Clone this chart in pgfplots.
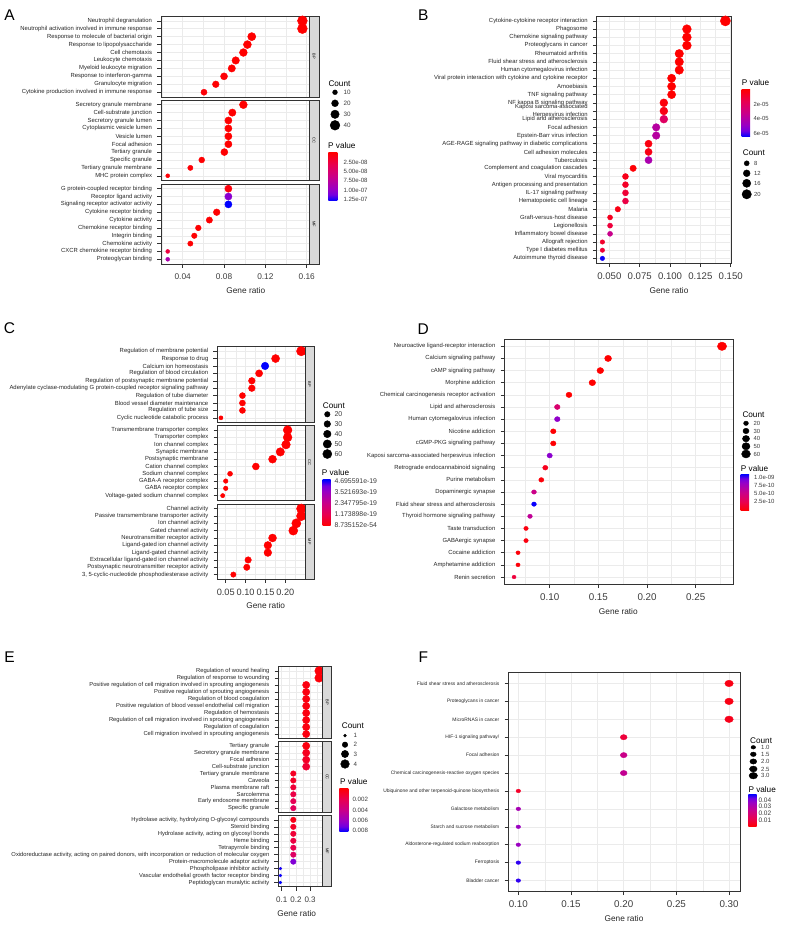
\documentclass[border=0pt]{standalone}
\usepackage{pgfplots}
\pgfplotsset{compat=1.18}
\usepackage{pgfplotstable}
\usepackage{fontspec}
\setmainfont{Liberation Sans}
\newcommand{\fs}[1]{\fontsize{#1}{#1}\selectfont}
\definecolor{g30}{RGB}{60,60,60}
\definecolor{g20}{RGB}{51,51,51}
\definecolor{g92}{RGB}{235,235,235}
\definecolor{g85}{RGB}{217,217,217}
\pgfdeclareverticalshading{pvup}{100bp}{rgb(0bp)=(1,0,0); rgb(25bp)=(1,0,0); rgb(37.5bp)=(0.91,0,0.314); rgb(50bp)=(0.788,0,0.537); rgb(62.5bp)=(0.604,0,0.765); rgb(68.75bp)=(0.451,0,0.878); rgb(75bp)=(0,0,1); rgb(100bp)=(0,0,1)}
\pgfdeclareverticalshading{pvdown}{100bp}{rgb(0bp)=(0,0,1); rgb(25bp)=(0,0,1); rgb(31.25bp)=(0.451,0,0.878); rgb(37.5bp)=(0.604,0,0.765); rgb(50bp)=(0.788,0,0.537); rgb(62.5bp)=(0.91,0,0.314); rgb(75bp)=(1,0,0); rgb(100bp)=(1,0,0)}

\pgfplotsset{
  colormap={pv}{rgb255(0cm)=(255,0,0) rgb255(2cm)=(232,0,80) rgb255(4cm)=(201,0,137) rgb255(6cm)=(154,0,195) rgb255(7cm)=(115,0,224) rgb255(8cm)=(0,0,255)},
  dp/.style={scale only axis, anchor=north west, y dir=reverse,
    colormap name=pv,
    axis line style={draw=g20, line width=0.8pt},
    tick style={draw=g20, line width=0.5pt},
    tick align=outside, major tick length=3.8pt, minor tick length=0pt,
    xmajorgrids, xminorgrids, ymajorgrids,
    major grid style={draw=g92, line width=0.5pt},
    minor grid style={draw=g92, line width=0.25pt},
    ytick pos=left, xtick pos=left,
    yticklabel style={text=black!85, inner sep=0pt, xshift=-5pt},
    xticklabel style={text=g30, yshift=-2.5pt},
  },
  nox/.style={xticklabels={}, xtick style={draw=none}},
  dots/.style 2 args={scatter, only marks, mark=*, point meta=\thisrow{p},
    scatter/use mapped color={draw=mapped color, fill=mapped color},
    visualization depends on={sqrt(max(#1*\thisrow{c}+(#2),0.3)) \as \rad},
    scatter/@pre marker code/.append style={/tikz/mark size=\rad}},
  legdots/.style 2 args={scatter, only marks, mark=*, point meta=\thisrow{c},
    scatter/use mapped color={draw=black, fill=black},
    visualization depends on={sqrt(max(#1*\thisrow{c}+(#2),0.3)) \as \rad},
    scatter/@pre marker code/.append style={/tikz/mark size=\rad}},
}

% ---------------- Panel A ----------------
\pgfplotstableread[row sep=\\]{
r c p\\
0.1558 41 1e-12\\
0.1558 41 1e-12\\
0.1068 28 1e-10\\
0.1026 27 1e-10\\
0.0987 26 1e-10\\
0.0913 24 1e-10\\
0.0875 23 1e-10\\
0.0800 21 2e-9\\
0.0720 19 1e-9\\
0.0606 16 3e-9\\
}\tAbp
\pgfplotstableread[row sep=\\]{
r c p\\
0.0987 26 1e-10\\
0.0880 23 1e-10\\
0.0842 22 1e-10\\
0.0842 22 1e-10\\
0.0842 22 1e-10\\
0.0842 22 1e-10\\
0.0803 21 1e-9\\
0.0584 15 1e-9\\
0.0474 12 2e-9\\
0.0255 7 3e-9\\
}\tAcc
\pgfplotstableread[row sep=\\]{
r c p\\
0.0842 22 5e-9\\
0.0842 22 1.04e-7\\
0.0842 22 1.3e-7\\
0.0729 19 1e-9\\
0.0658 17 1e-9\\
0.0551 14 1e-9\\
0.0512 13 1e-9\\
0.0474 12 1e-9\\
0.0255 7 2.5e-8\\
0.0255 7 8.5e-8\\
}\tAmf
% ---------------- Panel B ----------------
\pgfplotstableread[row sep=\\]{
r c p\\
0.1456 23 1e-10\\
0.1139 18 1e-9\\
0.1139 18 1e-9\\
0.1139 18 1e-9\\
0.1076 17 1e-8\\
0.1076 17 1e-8\\
0.1076 17 1e-8\\
0.1013 16 1e-8\\
0.1013 16 1e-8\\
0.1013 16 1e-8\\
0.0949 15 2e-6\\
0.0949 15 4e-6\\
0.0949 15 2.1e-5\\
0.0886 14 3.9e-5\\
0.0886 14 3.9e-5\\
0.0823 13 3e-6\\
0.0823 13 4e-6\\
0.0823 13 4.3e-5\\
0.0696 11 1e-6\\
0.0633 10 5e-6\\
0.0633 10 8e-6\\
0.0633 10 1.1e-5\\
0.0633 10 1.4e-5\\
0.0570 9 4e-6\\
0.0506 8 6e-6\\
0.0506 8 1.2e-5\\
0.0506 8 3.3e-5\\
0.0443 7 9e-6\\
0.0443 7 1.1e-5\\
0.0443 7 6.4e-5\\
}\tB
% ---------------- Panel C ----------------
\pgfplotstableread[row sep=\\]{
r c p\\
0.240 65 1e-30\\
0.1755 47 1e-25\\
0.149 40 4.7e-19\\
0.134 36 1e-25\\
0.1157 31 1e-25\\
0.1157 31 1e-25\\
0.092 25 1e-22\\
0.092 25 1e-22\\
0.092 25 1e-22\\
0.038 10 1e-22\\
}\tCbp
\pgfplotstableread[row sep=\\]{
r c p\\
0.2058 56 1e-40\\
0.2058 56 1e-40\\
0.2017 54 1e-40\\
0.1873 51 1e-35\\
0.1678 45 1e-35\\
0.1258 34 1e-30\\
0.0609 16 1e-25\\
0.0500 13 1e-25\\
0.0500 13 1e-25\\
0.0424 11 1e-25\\
}\tCcc
\pgfplotstableread[row sep=\\]{
r c p\\
0.240 65 1e-50\\
0.240 65 1e-50\\
0.2277 61 1e-50\\
0.220 59 1e-50\\
0.1678 45 1e-35\\
0.156 42 1e-35\\
0.156 42 1e-35\\
0.1064 29 1e-30\\
0.103 28 1e-25\\
0.0692 19 1e-22\\
}\tCmf
% ---------------- Panel D ----------------
\pgfplotstableread[row sep=\\]{
r c p\\
0.277 66 1e-15\\
0.160 38 1e-12\\
0.152 36 1e-12\\
0.1438 35 1e-12\\
0.1198 29 1e-12\\
0.1078 26 4.1e-10\\
0.1078 26 8.5e-10\\
0.1037 25 1e-11\\
0.1037 25 1e-11\\
0.100 24 8.7e-10\\
0.0955 23 1e-10\\
0.0914 22 3e-11\\
0.0839 20 5.4e-10\\
0.0839 20 1.08e-9\\
0.0798 19 6e-10\\
0.0757 18 5e-11\\
0.0757 18 5e-11\\
0.0675 16 3e-11\\
0.0675 16 3e-11\\
0.0634 15 2e-10\\
}\tD
% ---------------- Panel E ----------------
\pgfplotstableread[row sep=\\]{
r c p\\
0.3636 4 0.0002\\
0.3636 4 0.0002\\
0.2727 3 0.0004\\
0.2727 3 0.0004\\
0.2727 3 0.0004\\
0.2727 3 0.0004\\
0.2727 3 0.0004\\
0.2727 3 0.0004\\
0.2727 3 0.0004\\
0.2727 3 0.0004\\
}\tEbp
\pgfplotstableread[row sep=\\]{
r c p\\
0.2727 3 0.0004\\
0.2727 3 0.0008\\
0.2727 3 0.0010\\
0.2727 3 0.0013\\
0.1818 2 0.0009\\
0.1818 2 0.0010\\
0.1818 2 0.0014\\
0.1818 2 0.0018\\
0.1818 2 0.0022\\
0.1818 2 0.0024\\
}\tEcc
\pgfplotstableread[row sep=\\]{
r c p\\
0.1818 2 0.0006\\
0.1818 2 0.0010\\
0.1818 2 0.0014\\
0.1818 2 0.0017\\
0.1818 2 0.0020\\
0.1818 2 0.0027\\
0.1818 2 0.0068\\
0.0909 1 0.0080\\
0.0909 1 0.0081\\
0.0909 1 0.0082\\
}\tEmf
% ---------------- Panel F ----------------
\pgfplotstableread[row sep=\\]{
r c p\\
0.30 3 0.003\\
0.30 3 0.003\\
0.30 3 0.004\\
0.20 2 0.009\\
0.20 2 0.024\\
0.20 2 0.026\\
0.10 1 0.006\\
0.10 1 0.033\\
0.10 1 0.036\\
0.10 1 0.036\\
0.10 1 0.046\\
0.10 1 0.046\\
}\tF
% ---------------- Legend keys (x, y in pixels from top) ----------------
\pgfplotstableread[row sep=\\]{x y c\\ 335 92.3 10\\ 335 103.3 20\\ 335 114.3 30\\ 335 125.3 40\\}\lA
\pgfplotstableread[row sep=\\]{x y c\\ 746.7 163.3 8\\ 746.7 173.3 12\\ 746.7 183.3 16\\ 746.7 194.3 20\\}\lB
\pgfplotstableread[row sep=\\]{x y c\\ 327.3 414.3 20\\ 327.3 424 30\\ 327.3 434 40\\ 327.3 444 50\\ 327.3 454 60\\}\lC
\pgfplotstableread[row sep=\\]{x y c\\ 746 423.3 20\\ 746 431 30\\ 746 438.7 40\\ 746 446.3 50\\ 746 454 60\\}\lD
\pgfplotstableread[row sep=\\]{x y c\\ 345 735.7 1\\ 345 744.7 2\\ 345 754 3\\ 345 764 4\\}\lE
\pgfplotstableread[row sep=\\]{x y c\\ 753.3 747.3 1\\ 753.3 754.3 1.5\\ 753.3 761.5 2\\ 753.3 769 2.5\\ 753.3 775.7 3\\}\lF

\begin{document}
\begin{tikzpicture}
\path[use as bounding box] (0pt,0pt) rectangle (798pt,926pt);

% ======== A ========
\begin{axis}[dp, name=Abp, at={(161pt,910pt)}, width=148pt, height=81pt,
  xmin=0.019, xmax=0.1622, ymin=0.4, ymax=10.6,
  xtick={0.04,0.08,0.12,0.16}, minor xtick={0.02,0.06,0.10,0.14}, nox,
  ytick={1,...,10}, yticklabel style={font=\fs{5.9}},
  yticklabels={{Neutrophil degranulation},{Neutrophil activation involved in immune response},{Response to molecule of bacterial origin},{Response to lipopolysaccharide},{Cell chemotaxis},{Leukocyte chemotaxis},{Myeloid leukocyte migration},{Response to interferon-gamma},{Granulocyte migration},{Cytokine production involved in immune response}},
  point meta min=0, point meta max=1.3e-7]
\addplot[dots={0.6}{-0.2}] table[x=r, y expr=\coordindex+1] {\tAbp};
\end{axis}
\draw[fill=g85, draw=g20, line width=0.8pt] (Abp.north east) rectangle ([xshift=10pt]Abp.south east);
\node[rotate=-90, font=\fs{4}] at ([xshift=5pt]Abp.east) {BP};

\begin{axis}[dp, name=Acc, at={(161pt,826pt)}, width=148pt, height=80.5pt,
  xmin=0.019, xmax=0.1622, ymin=0.4, ymax=10.6,
  xtick={0.04,0.08,0.12,0.16}, minor xtick={0.02,0.06,0.10,0.14}, nox,
  ytick={1,...,10}, yticklabel style={font=\fs{5.9}},
  yticklabels={{Secretory granule membrane},{Cell-substrate junction},{Secretory granule lumen},{Cytoplasmic vesicle lumen},{Vesicle lumen},{Focal adhesion},{Tertiary granule},{Specific granule},{Tertiary granule membrane},{MHC protein complex}},
  point meta min=0, point meta max=1.3e-7]
\addplot[dots={0.6}{-0.2}] table[x=r, y expr=\coordindex+1] {\tAcc};
\end{axis}
\draw[fill=g85, draw=g20, line width=0.8pt] (Acc.north east) rectangle ([xshift=10pt]Acc.south east);
\node[rotate=-90, font=\fs{4}] at ([xshift=5pt]Acc.east) {CC};

\begin{axis}[dp, name=Amf, at={(161pt,742pt)}, width=148pt, height=80pt,
  xmin=0.019, xmax=0.1622, ymin=0.4, ymax=10.6,
  xtick={0.04,0.08,0.12,0.16}, minor xtick={0.02,0.06,0.10,0.14},
  xticklabels={0.04,0.08,0.12,0.16}, xticklabel style={font=\fs{8.3}},
  ytick={1,...,10}, yticklabel style={font=\fs{5.9}},
  yticklabels={{G protein-coupled receptor binding},{Receptor ligand activity},{Signaling receptor activator activity},{Cytokine receptor binding},{Cytokine activity},{Chemokine receptor binding},{Integrin binding},{Chemokine activity},{CXCR chemokine receptor binding},{Proteoglycan binding}},
  point meta min=0, point meta max=1.3e-7]
\addplot[dots={0.6}{-0.2}] table[x=r, y expr=\coordindex+1] {\tAmf};
\end{axis}
\draw[fill=g85, draw=g20, line width=0.8pt] (Amf.north east) rectangle ([xshift=10pt]Amf.south east);
\node[rotate=-90, font=\fs{4}] at ([xshift=5pt]Amf.east) {MF};

% ======== B ========
\begin{axis}[dp, name=B, at={(596.7pt,910pt)}, width=135pt, height=247.3pt,
  xmin=0.0396, xmax=0.1508, ymin=0.4, ymax=30.6,
  xtick={0.05,0.075,0.1,0.125,0.15}, minor xtick={0.0625,0.0875,0.1125,0.1375},
  xticklabels={0.050,0.075,0.100,0.125,0.150}, xticklabel style={font=\fs{9.6}},
  ytick={1,...,30}, yticklabel style={font=\fontsize{5.9}{7.2}\selectfont, align=right},
  yticklabels={{Cytokine-cytokine receptor interaction},{Phagosome},{Chemokine signaling pathway},{Proteoglycans in cancer},{Rheumatoid arthritis},{Fluid shear stress and atherosclerosis},{Human cytomegalovirus infection},{Viral protein interaction with cytokine and cytokine receptor},{Amoebiasis},{TNF signaling pathway},{NF kappa B signaling pathway},{Kaposi sarcoma-associated\\Herpesvirus infection},{Lipid and atherosclerosis},{Focal adhesion},{Epstein-Barr virus infection},{AGE-RAGE signaling pathway in diabetic complications},{Cell adhesion molecules},{Tuberculosis},{Complement and coagulation cascades},{Viral myocarditis},{Antigen processing and presentation},{IL-17 signaling pathway},{Hematopoietic cell lineage},{Malaria},{Graft-versus-host disease},{Legionellosis},{Inflammatory bowel disease},{Allograft rejection},{Type I diabetes mellitus},{Autoimmune thyroid disease}},
  point meta min=0, point meta max=6.5e-5]
\addplot[dots={1.3}{-4}] table[x=r, y expr=\coordindex+1] {\tB};
\end{axis}

% ======== C ========
\begin{axis}[dp, name=Cbp, at={(217.3pt,579.3pt)}, width=87.7pt, height=75.6pt,
  xmin=0.0288, xmax=0.2495, ymin=0.4, ymax=10.6,
  xtick={0.05,0.1,0.15,0.2}, minor xtick={0.075,0.125,0.175,0.225}, nox,
  ytick={1,...,10}, yticklabel style={font=\fs{5.9}},
  yticklabels={{Regulation of membrane potential},{Response to drug},{Calcium ion homeostasis},{Regulation of blood circulation},{Regulation of postsynaptic membrane potential},{Adenylate cyclase-modulating G protein-coupled receptor signaling pathway},{Regulation of tube diameter},{Blood vessel diameter maintenance},{Regulation of tube size},{Cyclic nucleotide catabolic process}},
  point meta min=0, point meta max=4.7e-19]
\addplot[dots={0.33}{1}] table[x=r, y expr=\coordindex+1] {\tCbp};
\end{axis}
\draw[fill=g85, draw=g20, line width=0.8pt] (Cbp.north east) rectangle ([xshift=9pt]Cbp.south east);
\node[rotate=-90, font=\fs{4}] at ([xshift=4.5pt]Cbp.east) {BP};

\begin{axis}[dp, name=Ccc, at={(217.3pt,500.3pt)}, width=87.7pt, height=74.3pt,
  xmin=0.0288, xmax=0.2495, ymin=0.4, ymax=10.6,
  xtick={0.05,0.1,0.15,0.2}, minor xtick={0.075,0.125,0.175,0.225}, nox,
  ytick={1,...,10}, yticklabel style={font=\fs{5.9}},
  yticklabels={{Transmembrane transporter complex},{Transporter complex},{Ion channel complex},{Synaptic membrane},{Postsynaptic membrane},{Cation channel complex},{Sodium channel complex},{GABA-A receptor complex},{GABA receptor complex},{Voltage-gated sodium channel complex}},
  point meta min=0, point meta max=4.7e-19]
\addplot[dots={0.33}{1}] table[x=r, y expr=\coordindex+1] {\tCcc};
\end{axis}
\draw[fill=g85, draw=g20, line width=0.8pt] (Ccc.north east) rectangle ([xshift=9pt]Ccc.south east);
\node[rotate=-90, font=\fs{4}] at ([xshift=4.5pt]Ccc.east) {CC};

\begin{axis}[dp, name=Cmf, at={(217.3pt,421.7pt)}, width=87.7pt, height=74.7pt,
  xmin=0.0288, xmax=0.2495, ymin=0.4, ymax=10.6,
  xtick={0.05,0.1,0.15,0.2}, minor xtick={0.075,0.125,0.175,0.225},
  xticklabels={0.05,0.10,0.15,0.20}, xticklabel style={font=\fs{9.2}},
  ytick={1,...,10}, yticklabel style={font=\fs{5.9}},
  yticklabels={{Channel activity},{Passive transmembrane transporter activity},{Ion channel activity},{Gated channel activity},{Neurotransmitter receptor activity},{Ligand-gated ion channel activity},{Ligand-gated channel activity},{Extracellular ligand-gated ion channel activity},{Postsynaptic neurotransmitter receptor activity},{3, 5-cyclic-nucleotide phosphodiesterase activity}},
  point meta min=0, point meta max=4.7e-19]
\addplot[dots={0.33}{1}] table[x=r, y expr=\coordindex+1] {\tCmf};
\end{axis}
\draw[fill=g85, draw=g20, line width=0.8pt] (Cmf.north east) rectangle ([xshift=9pt]Cmf.south east);
\node[rotate=-90, font=\fs{4}] at ([xshift=4.5pt]Cmf.east) {MF};

% ======== D ========
\begin{axis}[dp, name=D, at={(504.3pt,587pt)}, width=229pt, height=245.3pt,
  xmin=0.0534, xmax=0.2886, ymin=0.4, ymax=20.6,
  xtick={0.1,0.15,0.2,0.25}, minor xtick={0.075,0.125,0.175,0.225,0.275},
  xticklabels={0.10,0.15,0.20,0.25}, xticklabel style={font=\fs{9.8}},
  ytick={1,...,20}, yticklabel style={font=\fs{5.9}},
  yticklabels={{Neuroactive ligand-receptor interaction},{Calcium signaling pathway},{cAMP signaling pathway},{Morphine addiction},{Chemical carcinogenesis receptor activation},{Lipid and atherosclerosis},{Human cytomegalovirus infection},{Nicotine addiction},{cGMP-PKG signaling pathway},{Kaposi sarcoma-associated herpesvirus infection},{Retrograde endocannabinoid signaling},{Purine metabolism},{Dopaminergic synapse},{Fluid shear stress and atherosclerosis},{Thyroid hormone signaling pathway},{Taste transduction},{GABAergic synapse},{Cocaine addiction},{Amphetamine addiction},{Renin secretion}},
  point meta min=0, point meta max=1.09e-9]
\addplot[dots={0.28}{-0.8}, mark options={xscale=1.1}] table[x=r, y expr=\coordindex+1] {\tD};
\end{axis}

% ======== E ========
\begin{axis}[dp, name=Ebp, at={(278.3pt,259.3pt)}, width=44.4pt, height=71.6pt,
  xmin=0.076, xmax=0.389, ymin=0.4, ymax=10.6,
  xtick={0.1,0.2,0.3}, minor xtick={0.15,0.25,0.35}, nox,
  ytick={1,...,10}, yticklabel style={font=\fs{5.8}},
  yticklabels={{Regulation of wound healing},{Regulation of response to wounding},{Positive regulation of cell migration involved in sprouting angiogenesis},{Positive regulation of sprouting angiogenesis},{Regulation of blood coagulation},{Positive regulation of blood vessel endothelial cell migration},{Regulation of hemostasis},{Regulation of cell migration involved in sprouting angiogenesis},{Regulation of coagulation},{Cell migration involved in sprouting angiogenesis}},
  point meta min=0, point meta max=0.0082]
\addplot[dots={5.6}{-3.5}] table[x=r, y expr=\coordindex+1] {\tEbp};
\end{axis}
\draw[fill=g85, draw=g20, line width=0.8pt] (Ebp.north east) rectangle ([xshift=9pt]Ebp.south east);
\node[rotate=-90, font=\fs{4}] at ([xshift=4.5pt]Ebp.east) {BP};

\begin{axis}[dp, name=Ecc, at={(278.3pt,184.3pt)}, width=44.4pt, height=70.6pt,
  xmin=0.076, xmax=0.389, ymin=0.4, ymax=10.6,
  xtick={0.1,0.2,0.3}, minor xtick={0.15,0.25,0.35}, nox,
  ytick={1,...,10}, yticklabel style={font=\fs{5.8}},
  yticklabels={{Tertiary granule},{Secretory granule membrane},{Focal adhesion},{Cell-substrate junction},{Tertiary granule membrane},{Caveola},{Plasma membrane raft},{Sarcolemma},{Early endosome membrane},{Specific granule}},
  point meta min=0, point meta max=0.0082]
\addplot[dots={5.6}{-3.5}] table[x=r, y expr=\coordindex+1] {\tEcc};
\end{axis}
\draw[fill=g85, draw=g20, line width=0.8pt] (Ecc.north east) rectangle ([xshift=9pt]Ecc.south east);
\node[rotate=-90, font=\fs{4}] at ([xshift=4.5pt]Ecc.east) {CC};

\begin{axis}[dp, name=Emf, at={(278.3pt,110.3pt)}, width=44.4pt, height=71pt,
  xmin=0.076, xmax=0.389, ymin=0.4, ymax=10.6,
  xtick={0.1,0.2,0.3}, minor xtick={0.15,0.25,0.35},
  xticklabels={0.1,0.2,0.3}, xticklabel style={font=\fs{8}},
  ytick={1,...,10}, yticklabel style={font=\fs{5.8}},
  yticklabels={{Hydrolase activity, hydrolyzing O-glycosyl compounds},{Steroid binding},{Hydrolase activity, acting on glycosyl bonds},{Heme binding},{Tetrapyrrole binding},{Oxidoreductase activity, acting on paired donors, with incorporation or reduction of molecular oxygen},{Protein-macromolecule adaptor activity},{Phospholipase inhibitor activity},{Vascular endothelial growth factor receptor binding},{Peptidoglycan muralytic activity}},
  point meta min=0, point meta max=0.0082]
\addplot[dots={5.6}{-3.5}] table[x=r, y expr=\coordindex+1] {\tEmf};
\end{axis}
\draw[fill=g85, draw=g20, line width=0.8pt] (Emf.north east) rectangle ([xshift=9pt]Emf.south east);
\node[rotate=-90, font=\fs{4}] at ([xshift=4.5pt]Emf.east) {MF};

% ======== F ========
\begin{axis}[dp, name=F, at={(508.3pt,253.3pt)}, width=231.7pt, height=218.6pt,
  xmin=0.0905, xmax=0.3104, ymin=0.4, ymax=12.6,
  xtick={0.1,0.15,0.2,0.25,0.3}, minor xtick={0.125,0.175,0.225,0.275},
  xticklabels={0.10,0.15,0.20,0.25,0.30}, xticklabel style={font=\fs{9.8}},
  ytick={1,...,12}, yticklabel style={font=\fs{4.9}},
  yticklabels={{Fluid shear stress and atherosclerosis},{Proteoglycans in cancer},{MicroRNAS in cancer},{HIF-1 signaling pathway/},{Focal adhesion},{Chemical carcinogenesis-reactive oxygen species},{Ubiquinone and other terpenoid-quinone biosynthesis},{Galactose metabolism},{Starch and sucrose metabolism},{Aldosterone-regulated sodium reabsorption},{Ferroptosis},{Bladder cancer}},
  point meta min=0, point meta max=0.0485]
\addplot[dots={3.7}{-0.5}, mark options={xscale=1.3}] table[x=r, y expr=\coordindex+1] {\tF};
\end{axis}

% ======== legend keys (count) ========
\begin{axis}[at={(0pt,0pt)}, anchor=south west, x=1pt, y=1pt, xmin=0, xmax=798, ymin=0, ymax=926, hide axis, clip=false]
\addplot[legdots={0.6}{-0.2}] table[x=x, y expr=926-\thisrow{y}] {\lA};
\addplot[legdots={1.3}{-4}] table[x=x, y expr=926-\thisrow{y}] {\lB};
\addplot[legdots={0.33}{1}] table[x=x, y expr=926-\thisrow{y}] {\lC};
\addplot[legdots={0.28}{-0.8}, mark options={xscale=1.1}] table[x=x, y expr=926-\thisrow{y}] {\lD};
\addplot[legdots={5.6}{-3.5}] table[x=x, y expr=926-\thisrow{y}] {\lE};
\addplot[legdots={3.7}{-0.5}, mark options={xscale=1.3}] table[x=x, y expr=926-\thisrow{y}] {\lF};
\end{axis}

% ======== texts, colour bars ========
\begin{scope}[shift={(0pt,926pt)}, x=1pt, y=-1pt]
\foreach \t/\x/\y in {A/9.5/15, B/423.3/15, C/9.5/328, D/423.3/329, E/9.5/656.7, F/423.3/656.7}
  \node[font=\fs{15.5}, inner sep=0pt] at (\x,\y) {\t};
\foreach \x/\y in {245.8/290.7, 669/290.7, 265.7/606, 618.3/611.3, 296.7/914, 624/918.7}
  \node[font=\fs{8.3}, text=black!85, inner sep=0pt] at (\x,\y) {Gene ratio};
% A legend
\node[anchor=west, font=\fs{8.2}, inner sep=0pt] at (328.3,83.3) {Count};
\foreach \v/\y in {10/92.3, 20/103.3, 30/114.3, 40/125.3}
  \node[anchor=west, font=\fs{6.3}, text=g30, inner sep=0pt] at (343.3,\y) {\v};
\node[anchor=west, font=\fs{8.2}, inner sep=0pt] at (328,146) {P value};
\shade[shading=pvdown] (328.3,152.7) rectangle (337.3,200.7);
\foreach \v/\y in {2.50e-08/162, 5.00e-08/171.3, 7.50e-08/180.7, 1.00e-07/190, 1.25e-07/199}
  \node[anchor=west, font=\fs{6.1}, text=g30, inner sep=0pt] at (343.3,\y) {\v};
% B legend
\node[anchor=west, font=\fs{8.2}, inner sep=0pt] at (741.7,82.3) {P value};
\shade[shading=pvdown] (741.7,89.3) rectangle (750,136.7);
\foreach \v/\y in {2e-05/104.3, 4e-05/118.7, 6e-05/133.3}
  \node[anchor=west, font=\fs{5.9}, text=g30, inner sep=0pt] at (753.3,\y) {\v};
\node[anchor=west, font=\fs{8.2}, inner sep=0pt] at (742.7,152.3) {Count};
\foreach \v/\y in {8/163.3, 12/173.3, 16/183.3, 20/194.3}
  \node[anchor=west, font=\fs{5.9}, text=g30, inner sep=0pt] at (754,\y) {\v};
% C legend
\node[anchor=west, font=\fs{8.2}, inner sep=0pt] at (322.7,405.3) {Count};
\foreach \v/\y in {20/414.3, 30/424, 40/434, 50/444, 60/454}
  \node[anchor=west, font=\fs{7}, text=g30, inner sep=0pt] at (334.3,\y) {\v};
\node[anchor=west, font=\fs{8.2}, inner sep=0pt] at (321.7,472.3) {P value};
\shade[shading=pvup] (322.7,480) rectangle (330.7,526);
\foreach \v/\y in {4.695591e-19/480.7, 3.521693e-19/491.7, 2.347795e-19/503, 1.173898e-19/514, 8.735152e-54/525}
  \node[anchor=west, font=\fs{6.9}, text=g30, inner sep=0pt] at (334.3,\y) {\v};
% D legend
\node[anchor=west, font=\fs{8.2}, inner sep=0pt] at (742.3,414.7) {Count};
\foreach \v/\y in {20/423.3, 30/431, 40/438.7, 50/446.3, 60/454}
  \node[anchor=west, font=\fs{5.9}, text=g30, inner sep=0pt] at (753.3,\y) {\v};
\node[anchor=west, font=\fs{8.2}, inner sep=0pt] at (740.7,468.3) {P value};
\shade[shading=pvup] (740.7,474.3) rectangle (749,510.7);
\foreach \v/\y in {1.0e-09/477.3, 7.5e-10/485.3, 5.0e-10/493.7, 2.5e-10/501.7}
  \node[anchor=west, font=\fs{6}, text=g30, inner sep=0pt] at (754,\y) {\v};
% E legend
\node[anchor=west, font=\fs{8.2}, inner sep=0pt] at (341.7,726) {Count};
\foreach \v/\y in {1/735.7, 2/744.7, 3/754, 4/764}
  \node[anchor=west, font=\fs{6.2}, text=g30, inner sep=0pt] at (353.3,\y) {\v};
\node[anchor=west, font=\fs{8.2}, inner sep=0pt] at (340,781.7) {P value};
\shade[shading=pvdown] (339.3,788.3) rectangle (348.3,831.7);
\foreach \v/\y in {0.002/799.3, 0.004/810, 0.006/820.3, 0.008/830.7}
  \node[anchor=west, font=\fs{6.2}, text=g30, inner sep=0pt] at (352.3,\y) {\v};
% F legend
\node[anchor=west, font=\fs{8.2}, inner sep=0pt] at (750,740.7) {Count};
\foreach \v/\y in {1.0/747.3, 1.5/754.3, 2.0/761.5, 2.5/769, 3.0/775.7}
  \node[anchor=west, font=\fs{6}, text=g30, inner sep=0pt] at (761,\y) {\v};
\node[anchor=west, font=\fs{8.2}, inner sep=0pt] at (748.3,789.3) {P value};
\shade[shading=pvup] (748.3,794.3) rectangle (756.7,826.7);
\foreach \v/\y in {0.04/800, 0.03/806.7, 0.02/813.3, 0.01/820}
  \node[anchor=west, font=\fs{6.5}, text=g30, inner sep=0pt] at (758.3,\y) {\v};
\end{scope}
\end{tikzpicture}
\end{document}
